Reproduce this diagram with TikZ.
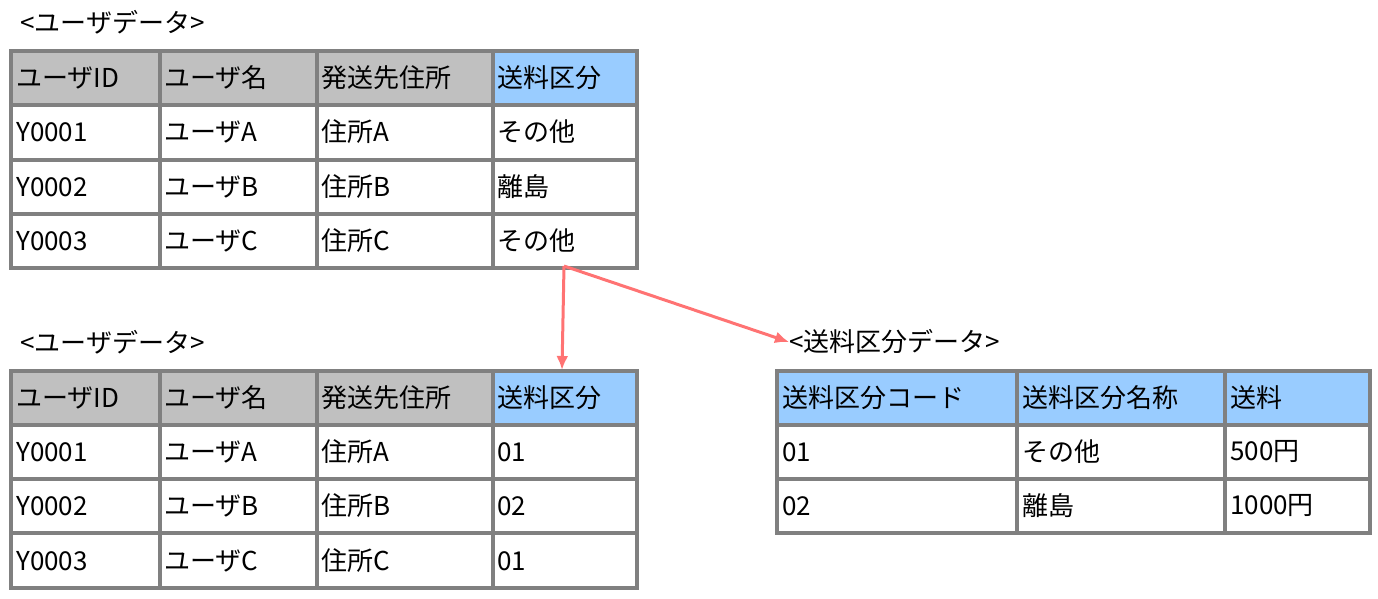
\documentclass[tikz,border=0pt]{standalone}
\usepackage{fontspec}
\setmainfont{Noto Sans CJK JP}
\begin{document}
\begin{tikzpicture}[x=1pt,y=-1pt,
  grid/.style={draw=black!50,line width=4pt},
  txt/.style={anchor=west,inner sep=0pt,font=\fontsize{26}{28}\selectfont},
  arr/.style={draw=red!55!white,line width=3pt,-{Latex[length=14pt,width=12pt]}}]
\usetikzlibrary{arrows.meta}
\definecolor{hgray}{HTML}{C0C0C0}
\definecolor{hblue}{HTML}{99CCFF}
\useasboundingbox (0,0) rectangle (1378,598);
% table 1
\fill[hgray] (11,51) rectangle (493,105);
\fill[hblue] (493,51) rectangle (637,105);
\foreach \y in {51,105,160,214,268} \draw[grid] (9,\y) -- (639,\y);
\foreach \x in {11,160,317,493,637} \draw[grid] (\x,51) -- (\x,268);
% table 2
\fill[hgray] (11,371) rectangle (493,425);
\fill[hblue] (493,371) rectangle (637,425);
\foreach \y in {371,425,479,533,588} \draw[grid] (9,\y) -- (639,\y);
\foreach \x in {11,160,317,493,637} \draw[grid] (\x,371) -- (\x,588);
% table 3
\fill[hblue] (777,371) rectangle (1370,425);
\foreach \y in {371,425,479,533} \draw[grid] (775,\y) -- (1372,\y);
\foreach \x in {777,1017,1225,1370} \draw[grid] (\x,371) -- (\x,533);
% titles
\node[txt] (t1) at (20,22) {<ユーザデータ>};
\node[txt] (t2) at (20,342) {<ユーザデータ>};
\node[txt] (t3) at (789,342) {<送料区分データ>};
% table 1 text
\node[txt] (a11) at (16,78) {ユーザID};
\node[txt] (a12) at (164,78) {ユーザ名};
\node[txt] (a13) at (321,78) {発送先住所};
\node[txt] (a14) at (497,78) {送料区分};
\node[txt] (a21) at (16,132) {Y0001};
\node[txt] (a22) at (164,132) {ユーザA};
\node[txt] (a23) at (321,132) {住所A};
\node[txt] (a24) at (497,132) {その他};
\node[txt] (a31) at (16,187) {Y0002};
\node[txt] (a32) at (164,187) {ユーザB};
\node[txt] (a33) at (321,187) {住所B};
\node[txt] (a34) at (497,187) {離島};
\node[txt] (a41) at (16,241) {Y0003};
\node[txt] (a42) at (164,241) {ユーザC};
\node[txt] (a43) at (321,241) {住所C};
\node[txt] (a44) at (497,241) {その他};
% table 2 text
\node[txt] (b11) at (16,398) {ユーザID};
\node[txt] (b12) at (164,398) {ユーザ名};
\node[txt] (b13) at (321,398) {発送先住所};
\node[txt] (b14) at (497,398) {送料区分};
\node[txt] (b21) at (16,452) {Y0001};
\node[txt] (b22) at (164,452) {ユーザA};
\node[txt] (b23) at (321,452) {住所A};
\node[txt] (b24) at (497,452) {01};
\node[txt] (b31) at (16,506) {Y0002};
\node[txt] (b32) at (164,506) {ユーザB};
\node[txt] (b33) at (321,506) {住所B};
\node[txt] (b34) at (497,506) {02};
\node[txt] (b41) at (16,561) {Y0003};
\node[txt] (b42) at (164,561) {ユーザC};
\node[txt] (b43) at (321,561) {住所C};
\node[txt] (b44) at (497,561) {01};
% table 3 text
\node[txt] (c11) at (782,398) {送料区分コード};
\node[txt] (c12) at (1022,398) {送料区分名称};
\node[txt] (c13) at (1230,398) {送料};
\node[txt] (c21) at (782,452) {01};
\node[txt] (c22) at (1022,452) {その他};
\node[txt] (c23) at (1230,452) {500円};
\node[txt] (c31) at (782,506) {02};
\node[txt] (c32) at (1022,506) {離島};
\node[txt] (c33) at (1230,506) {1000円};
% arrows
\coordinate (s) at (564,266);
\coordinate (e1) at (562,370);
\draw[arr] (s) -- (e1);
\draw[arr] (s) -- (t3.west);
\end{tikzpicture}
\end{document}
